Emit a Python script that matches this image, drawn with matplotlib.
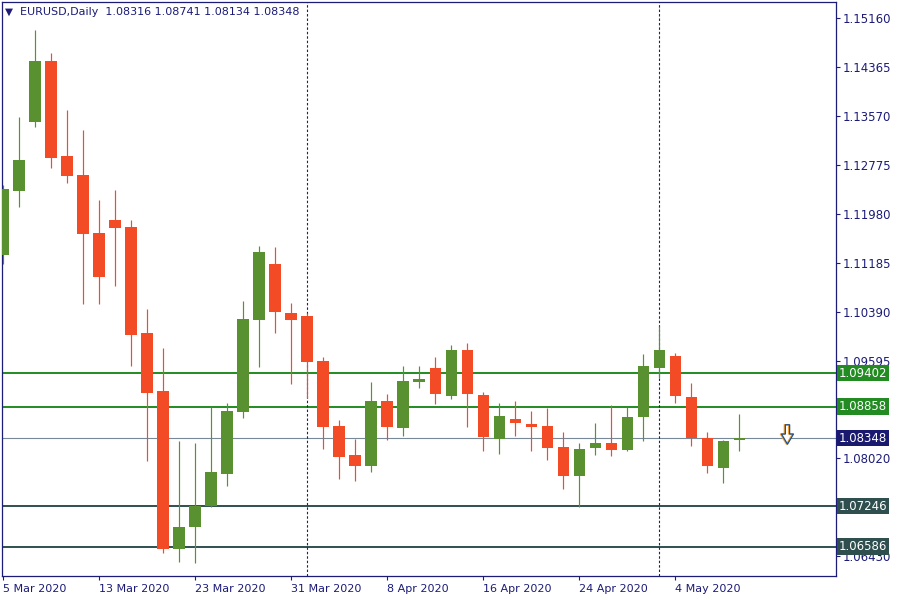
import matplotlib
matplotlib.use("Agg")
import matplotlib.pyplot as plt
import numpy as np
import pandas as pd
from matplotlib.path import Path
from matplotlib.transforms import ScaledTranslation

# daily EURUSD bars, 5 Mar .. 8 May 2020 (weekdays)
dates = pd.bdate_range("2020-03-05", "2020-05-08")

opens = [1.11319, 1.12358, 1.13477, 1.14467, 1.12926, 1.12617, 1.11676, 1.11887,
         1.11774, 1.10054, 1.09113, 1.06554, 1.06906, 1.07247, 1.07771, 1.08777,
         1.10270, 1.11173, 1.10378, 1.10330, 1.09599, 1.08545, 1.08079, 1.07901,
         1.08950, 1.08517, 1.09264, 1.09486, 1.09036, 1.09778, 1.09048, 1.08339,
         1.08663, 1.08582, 1.08550, 1.08209, 1.07738, 1.08193, 1.08269, 1.08160,
         1.08696, 1.09491, 1.09680, 1.09015, 1.08355, 1.07868, 1.08316]
highs = [1.12455, 1.13559, 1.14970, 1.14597, 1.13672, 1.13348, 1.12212, 1.12374,
         1.11887, 1.10443, 1.09810, 1.08301, 1.08269, 1.08853, 1.08918, 1.10573,
         1.11465, 1.11449, 1.10541, 1.10373, 1.09659, 1.08642, 1.08339, 1.09259,
         1.09064, 1.09518, 1.09518, 1.09664, 1.09859, 1.09892, 1.09096, 1.08918,
         1.08950, 1.08788, 1.08842, 1.08447, 1.08269, 1.08593, 1.08886, 1.08853,
         1.09713, 1.10167, 1.09729, 1.09242, 1.08447, 1.08318, 1.08741]
lows = [1.11178, 1.12098, 1.13396, 1.12736, 1.12493, 1.10529, 1.10529, 1.10821,
        1.09523, 1.07982, 1.06489, 1.06343, 1.06327, 1.07230, 1.07576, 1.08679,
        1.09507, 1.10059, 1.09231, 1.08994, 1.08176, 1.07690, 1.07657, 1.07803,
        1.08322, 1.08387, 1.09166, 1.08907, 1.08988, 1.08533, 1.08144, 1.08095,
        1.08387, 1.08144, 1.07998, 1.07527, 1.07235, 1.08079, 1.08063, 1.08144,
        1.08306, 1.09328, 1.08923, 1.08225, 1.07787, 1.07625, 1.08134]
closes = [1.12390, 1.12861, 1.14467, 1.12898, 1.12606, 1.11665, 1.10967, 1.11762,
          1.10026, 1.09085, 1.06554, 1.06906, 1.07247, 1.07798, 1.08788, 1.10281,
          1.11368, 1.10399, 1.10270, 1.09588, 1.08533, 1.08047, 1.07901, 1.08950,
          1.08533, 1.09275, 1.09307, 1.09069, 1.09778, 1.09069, 1.08371, 1.08707,
          1.08598, 1.08533, 1.08193, 1.07738, 1.08172, 1.08269, 1.08160, 1.08691,
          1.09518, 1.09778, 1.09036, 1.08355, 1.07901, 1.08301, 1.08348]

# horizontal levels drawn on the chart
levels = [1.09402, 1.08858, 1.07246, 1.06586]
level_colors = ["#228b22", "#228b22", "#2f4f4f", "#2f4f4f"]

price_ticks = [1.15160, 1.14365, 1.13570, 1.12775, 1.11980, 1.11185,
               1.10390, 1.09595, 1.08020, 1.06430]

arrow_bar = 49
arrow_price = 1.0841

NAVY = "#1c1c78"
UP = "#5a9130"
DOWN = "#f24b26"

o = np.array(opens)
h = np.array(highs)
l = np.array(lows)
c = np.array(closes)
x = np.arange(len(o))
cols = np.where(c >= o, UP, DOWN)

fig = plt.figure(figsize=(9, 6), dpi=100)
ax = fig.add_axes([2 / 900, 24 / 600, 834 / 900, 574 / 600])

# levels (behind candles)
for lev, col in zip(levels, level_colors):
    ax.axhline(lev, color=col, lw=1.4, zorder=1)
ax.axhline(c[-1], color="#778899", lw=0.8, zorder=1)

# month separators
for i in range(1, len(dates)):
    if dates[i].month != dates[i - 1].month:
        ax.axvline(i, color=NAVY, lw=0.8, ls=(0, (2.2, 1.8)), zorder=1)

# candles
ax.vlines(x, l, h, colors=cols, lw=0.85, zorder=2)
body_lo = np.minimum(o, c)
body_h = np.maximum(np.abs(c - o), 0.00018)
ax.bar(x, body_h, bottom=body_lo, width=0.69, color=cols, linewidth=0, zorder=3)

# sell arrow
verts = [(-0.22, 1.0), (0.22, 1.0), (0.22, 0.05), (0.62, 0.05), (0.0, -1.0),
         (-0.62, 0.05), (-0.22, 0.05), (-0.22, 1.0)]
arrow = Path(verts, closed=True)
shift = ScaledTranslation(-1 / 100, 0, fig.dpi_scale_trans)
ax.plot(arrow_bar, arrow_price, marker=arrow, ms=14, mfc="white", mec="#f0a030",
        mew=1.0, transform=ax.transData + shift, zorder=4, clip_on=False)
ax.plot(arrow_bar, arrow_price, marker=arrow, ms=14, mfc="none", mec="#1f4f8f",
        mew=0.9, zorder=5)

ax.set_xlim(-0.0625, 52.06)
ax.set_ylim(1.06111, 1.15425)

for sp in ax.spines.values():
    sp.set_color(NAVY)
    sp.set_linewidth(0.9)

ax.yaxis.tick_right()
ax.set_yticks(price_ticks)
ax.set_yticklabels([f"{p:.5f}" for p in price_ticks])
ax.tick_params(axis="y", direction="out", length=3, width=0.8, color=NAVY,
               labelcolor=NAVY, labelsize=8.5, pad=2)

xt = list(range(0, len(dates), 6))
ax.set_xticks(xt)
ax.set_xticklabels([f"{dates[i].day} {dates[i]:%b %Y}" for i in xt], ha="left")
ax.tick_params(axis="x", direction="out", length=3, width=0.8, color=NAVY,
               labelcolor=NAVY, labelsize=8, pad=3)

# price boxes on the right scale
boxes = list(zip(levels, level_colors)) + [(c[-1], "#191970")]
for lev, col in boxes:
    ax.text(1.0035, lev, f"{lev:.5f}", transform=ax.get_yaxis_transform(),
            ha="left", va="center", color="white", fontsize=8.5, zorder=6,
            bbox=dict(boxstyle="square,pad=0.15", fc=col, ec="none"), clip_on=False)

# header
fig.text(9 / 900, 1 - 12 / 600, "▼", fontsize=7.5, color=NAVY, ha="center", va="center")
fig.text(20 / 900, 1 - 12 / 600,
         f"EURUSD,Daily  {o[-1]:.5f} {h[-1]:.5f} {l[-1]:.5f} {c[-1]:.5f}",
         fontsize=8, color=NAVY, ha="left", va="center")

fig.savefig("out.png", dpi=100)
